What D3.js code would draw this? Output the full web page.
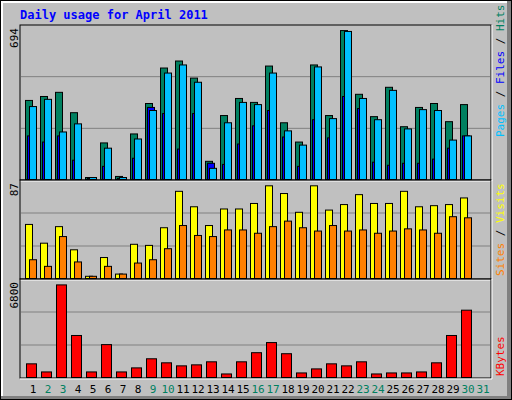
<!DOCTYPE html>
<html>
<head>
<meta charset="utf-8">
<script src="https://cdn.jsdelivr.net/npm/d3@7"></script>
<style>
  body { margin: 0; background: #fff }
  text { font-family: 'DejaVu Sans Mono', monospace }
</style>
</head>
<body>
<svg id="chart" width="512" height="400"></svg>
<script>
const days = d3.range(1, 32)
const weekend = [2, 3, 9, 10, 16, 17, 23, 24, 30, 31]
const hits = [361, 379, 398, 305, 9, 167, 14, 208, 347, 509, 541, 463, 83, 292, 370, 352, 518, 259, 171, 523, 292, 680, 389, 287, 421, 241, 329, 347, 264, 342, 0]
const files = [333, 366, 217, 254, 9, 143, 9, 185, 315, 486, 523, 444, 51, 259, 352, 342, 486, 222, 157, 514, 278, 676, 370, 273, 407, 231, 319, 315, 180, 199, 0]
const pages = [199, 171, 199, 88, 5, 60, 5, 97, 329, 301, 139, 301, 74, 69, 162, 245, 315, 194, 60, 273, 190, 379, 324, 79, 65, 74, 74, 93, 143, 199, 0]
const visits = [49, 32, 47, 26, 2, 19, 4, 31, 30, 46, 79, 65, 48, 63, 63, 68, 84, 77, 60, 84, 62, 67, 76, 68, 68, 79, 65, 66, 67, 73, 0]
const sites = [17, 11, 38, 15, 2, 11, 4, 14, 17, 27, 48, 39, 38, 44, 44, 41, 47, 52, 46, 43, 48, 43, 44, 41, 43, 45, 44, 41, 56, 55, 0]
const kbytes = [968, 394, 6559, 2976, 394, 2330, 394, 681, 1326, 1040, 825, 896, 1111, 251, 1111, 1757, 2474, 1685, 323, 609, 968, 825, 1111, 251, 323, 323, 394, 1040, 2976, 4768, 0]

const svg = d3.select('#chart')
const x = d3.scaleLinear().domain([1, 32]).range([25, 490])

// frame
svg.append('rect').attr('x', 0).attr('y', 0).attr('width', 512).attr('height', 400).attr('fill', '#000')
svg.append('rect').attr('x', 1).attr('y', 1).attr('width', 510).attr('height', 398).attr('fill', '#808080')
svg.append('rect').attr('x', 1).attr('y', 1).attr('width', 506).attr('height', 395).attr('fill', '#fff')
svg.append('rect').attr('x', 3).attr('y', 3).attr('width', 504).attr('height', 393).attr('fill', '#c0c0c0')

svg.append('text').attr('x', 20).attr('y', 19)
  .attr('fill', '#0000ff').attr('font-size', 12).attr('font-weight', 'bold')
  .text('Daily usage for April 2011')

function panel (top, bottom, max) {
  const y = d3.scaleLinear().domain([0, max]).range([bottom - 1, top + 2])
  svg.append('rect').attr('x', 20).attr('y', top).attr('width', 471).attr('height', bottom - top)
    .attr('fill', 'none').attr('stroke', '#000')
  svg.append('path').attr('d', `M20,${bottom + 1}H492V${top}`).attr('stroke', '#fff').attr('fill', 'none')
  const h = bottom - top
  ;[1, 2].forEach(k => {
    svg.append('line').attr('x1', 21).attr('x2', 490)
      .attr('y1', bottom - k * h / 3).attr('y2', bottom - k * h / 3)
      .attr('stroke', '#808080')
  })
  svg.append('text').attr('transform', `translate(18,${top + 3}) rotate(-90)`)
    .attr('text-anchor', 'end').attr('font-size', 11).text(max)
  return y
}

function bars (y, data, dx, w, color) {
  svg.append('g').selectAll('rect').data(days.slice(0, 30)).join('rect')
    .attr('x', d => x(d) + dx + 0.5)
    .attr('y', d => y(data[d - 1]) + 0.5)
    .attr('width', w)
    .attr('height', d => Math.max(1, y(0) - y(data[d - 1])))
    .attr('fill', color).attr('stroke', '#000')
}

function sideLabel (cx, bottom, parts) {
  const t = svg.append('text').attr('transform', `translate(${cx},${bottom}) rotate(-90)`)
    .attr('font-size', 11)
  parts.forEach(p => t.append('tspan').attr('fill', p[1]).text(p[0]))
}

const y1 = panel(25, 180, d3.max(hits) + 14)
bars(y1, hits, 0, 7, '#008060')
bars(y1, pages, 2, 7, '#0000ff')
bars(y1, files, 4, 7, '#00c0ff')
sideLabel(504, 137, [['Pages', '#00c0ff'], [' / ', '#000'], ['Files', '#0000ff'], [' / ', '#000'], ['Hits', '#008060']])

const y2 = panel(180, 279, 87)
bars(y2, visits, 0, 7, '#ffff00')
bars(y2, sites, 4, 7, '#ff8000')
sideLabel(504, 276, [['Sites', '#ff8000'], [' / ', '#000'], ['Visits', '#ffff00']])

const y3 = panel(279, 378, 6800)
bars(y3, kbytes, 1, 10, '#ff0000')
sideLabel(504, 376, [['KBytes', '#ff0000']])

svg.append('g').selectAll('text').data(days).join('text')
  .attr('x', d => x(d) + 8).attr('y', 393)
  .attr('text-anchor', 'middle').attr('font-size', 11)
  .attr('fill', d => weekend.includes(d) ? '#008060' : '#000')
  .text(d => d)
</script>
</body>
</html>
